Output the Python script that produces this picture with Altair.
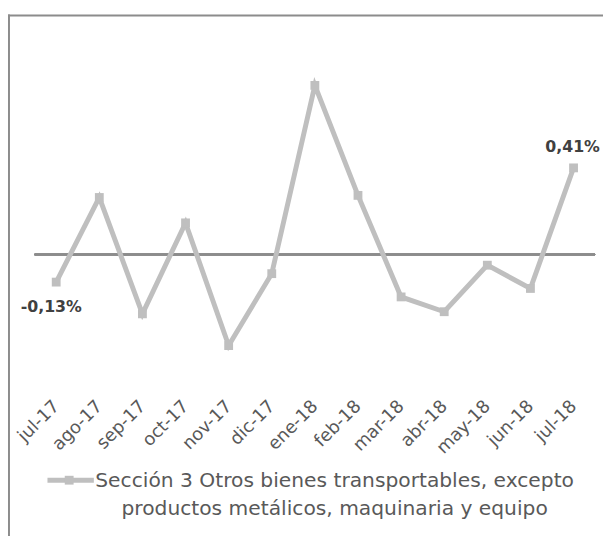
import altair as alt
import pandas as pd

months = ["jul-17", "ago-17", "sep-17", "oct-17", "nov-17", "dic-17", "ene-18",
          "feb-18", "mar-18", "abr-18", "may-18", "jun-18", "jul-18"]
values = [-0.13, 0.27, -0.28, 0.15, -0.43, -0.09, 0.80, 0.28, -0.20, -0.27, -0.05, -0.16, 0.41]
legend_lines = ["Sección 3 Otros bienes transportables, excepto",
                "productos metálicos, maquinaria y equipo"]

df = pd.DataFrame({"mes": months, "valor": values})
df["orden"] = range(len(months))
df["etiqueta"] = [f"{v:.2f}".replace(".", ",") + "%" for v in values]

LINE = "#BFBFBF"
FONT = "DejaVu Sans"

x = alt.X("mes:N", sort=months, title=None,
          axis=alt.Axis(labelAngle=-45, labelAlign="right", labelBaseline="middle",
                        domain=False, ticks=False, labelPadding=22,
                        labelFont=FONT, labelFontSize=18, labelColor="#595959"))
y = alt.Y("valor:Q", scale=alt.Scale(domain=[-0.6, 1.0]), axis=None)

base = alt.Chart(df)

zero = base.transform_calculate(cero="0").mark_rule(color="#8C8C8C", strokeWidth=1.5).encode(
    y=alt.Y("cero:Q", axis=None))

line = base.mark_line(color=LINE, strokeWidth=5).encode(x=x, y=y, order="orden:Q")
pts = base.mark_square(color=LINE, size=80, opacity=1).encode(x=x, y=y)

lab_first = base.transform_filter("datum.orden == 0").mark_text(
    font=FONT, fontWeight="bold", fontSize=16, color="#404040", dy=25, dx=-5, baseline="middle"
).encode(x=x, y=y, text="etiqueta:N")
lab_last = base.transform_filter("datum.orden == 12").mark_text(
    font=FONT, fontWeight="bold", fontSize=16, color="#404040", dy=-21, dx=-1, baseline="middle"
).encode(x=x, y=y, text="etiqueta:N")

# legend (drawn manually) and frame lines, in pixel space
leg_df = pd.DataFrame({"t": ["\n".join(legend_lines)], "tx": [304], "ty": [450],
                       "lx": [13], "lx2": [60], "ly": [443], "px": [35]})
frame_df = pd.DataFrame({"x1": [-27, -26], "x2": [580, -26], "y1": [-28, -29], "y2": [-28, 520]})

leg_text = alt.Chart(leg_df).mark_text(
    font=FONT, fontSize=20.5, color="#595959", align="center", baseline="alphabetic",
    lineBreak="\n", lineHeight=28
).encode(x=alt.X("tx:Q", scale=None, axis=None), y=alt.Y("ty:Q", scale=None, axis=None),
         text="t:N")
leg_line = alt.Chart(leg_df).mark_rule(color=LINE, strokeWidth=5).encode(
    x=alt.X("lx:Q", scale=None, axis=None), x2="lx2:Q",
    y=alt.Y("ly:Q", scale=None, axis=None))
leg_pt = alt.Chart(leg_df).mark_square(color=LINE, size=80, opacity=1).encode(
    x=alt.X("px:Q", scale=None, axis=None), y=alt.Y("ly:Q", scale=None, axis=None))

frame = alt.Chart(frame_df).mark_rule(color="#8C8C8C", strokeWidth=2).encode(
    x=alt.X("x1:Q", scale=None, axis=None), x2="x2:Q",
    y=alt.Y("y1:Q", scale=None, axis=None), y2="y2:Q")

chart = alt.layer(zero, line, pts, lab_first, lab_last, leg_line, leg_pt, leg_text,
                  frame).properties(
    width=568, height=343,
    autosize=alt.AutoSizeParams(type="none"),
    padding={"left": 27, "top": 32, "right": 8, "bottom": 153},
    background="white",
).configure_view(stroke=None)

chart.save("out.html", embed_options={"renderer": "svg", "actions": False})
